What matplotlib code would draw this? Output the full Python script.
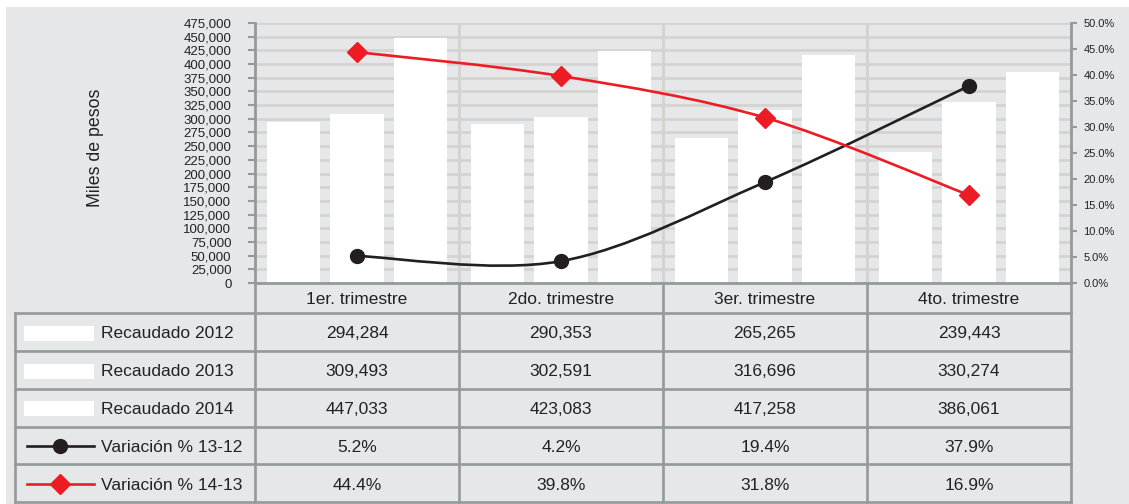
import matplotlib

matplotlib.use("Agg")
import matplotlib.pyplot as plt  # noqa: E402
from matplotlib.lines import Line2D  # noqa: E402
from matplotlib.patches import PathPatch, Rectangle  # noqa: E402
from matplotlib.path import Path  # noqa: E402
from matplotlib.transforms import Affine2D  # noqa: E402
import numpy as np  # noqa: E402

trimestres = ["1er. trimestre", "2do. trimestre", "3er. trimestre", "4to. trimestre"]
rec_2012 = [294284, 290353, 265265, 239443]
rec_2013 = [309493, 302591, 316696, 330274]
rec_2014 = [447033, 423083, 417258, 386061]
var_13_12 = [5.2, 4.2, 19.4, 37.9]
var_14_13 = [44.4, 39.8, 31.8, 16.9]
y_ticks = list(range(0, 475001, 25000))
pct_ticks = list(range(0, 51, 5))

W, H = 1129, 504
BG = "#e6e7e8"
GRID = "#d5d3d1"
EDGE = "#939a9a"
RED = "#ed1c24"
BLACK = "#231f20"
TXT = "#222222"

plt.rcParams["font.family"] = ["Liberation Sans", "DejaVu Sans"]


def smooth_path(xs, ys):
    # Catmull-Rom style bezier, like Excel's smoothed lines
    pts = list(zip(xs, ys))
    n = len(pts)
    verts, codes = [pts[0]], [Path.MOVETO]
    for i in range(n - 1):
        p0, p1 = pts[max(i - 1, 0)], pts[i]
        p2, p3 = pts[i + 1], pts[min(i + 2, n - 1)]
        c1 = (p1[0] + (p2[0] - p0[0]) / 6, p1[1] + (p2[1] - p0[1]) / 6)
        c2 = (p2[0] - (p3[0] - p1[0]) / 6, p2[1] - (p3[1] - p1[1]) / 6)
        verts += [c1, c2, p2]
        codes += [Path.CURVE4] * 3
    return Path(verts, codes)


fig = plt.figure(figsize=(W / 100, H / 100), dpi=100)
fig.patch.set_facecolor("white")
pix = Affine2D().scale(1 / W, -1 / H).translate(0, 1) + fig.transFigure
fig.add_artist(Rectangle((6, 7), W, H, transform=pix, facecolor=BG, edgecolor="none", zorder=-10))

L, R, T, B = 255, 1071, 23, 283
ax = fig.add_axes([L / W, 1 - B / H, (R - L) / W, (B - T) / H])
ax.patch.set_visible(False)
x = np.arange(len(trimestres))
for off, vals in zip((-0.31, 0.0, 0.31), (rec_2012, rec_2013, rec_2014)):
    ax.bar(x + off, vals, 0.26, color="white", zorder=2)
for b in (0.5, 1.5, 2.5):
    ax.axvline(b, color=GRID, lw=2.2, zorder=1)
ax.set_xlim(-0.5, 3.5)
ax.set_ylim(0, 475000)
ax.set_yticks(y_ticks)
ax.set_yticklabels([f"{v:,}" for v in y_ticks])
ax.yaxis.grid(True, color=GRID, lw=2)
ax.set_axisbelow(True)
ax.set_xticks([])
for s in ("top", "right"):
    ax.spines[s].set_visible(False)
for s in ("left", "bottom"):
    ax.spines[s].set_color(EDGE)
    ax.spines[s].set_linewidth(2)
ax.tick_params(axis="y", length=5, width=1.5, color=EDGE, pad=12, labelsize=9.5, labelcolor=TXT)

ax2 = ax.twinx()
ax2.set_ylim(0, 50)
ax2.set_yticks(pct_ticks)
ax2.set_yticklabels([f"{v:.1f}%" for v in pct_ticks])
for s in ("top", "left", "bottom"):
    ax2.spines[s].set_visible(False)
ax2.spines["right"].set_color(EDGE)
ax2.spines["right"].set_linewidth(2)
ax2.tick_params(axis="y", length=4, width=1.5, color=EDGE, pad=5, labelsize=8, labelcolor=TXT)
for vals, color, marker, ms in ((var_13_12, BLACK, "o", 10), (var_14_13, RED, "D", 10)):
    ax2.add_patch(PathPatch(smooth_path(x, vals), facecolor="none", edgecolor=color, lw=1.9, zorder=3))
    ax2.plot(x, vals, ls="none", marker=marker, ms=ms, color=color, zorder=4)

fig.text(95 / W, 1 - 148 / H, "Miles de pesos", rotation=90, ha="center", va="center",
         fontsize=12.8, color=TXT)

# data table under the chart
rows_y = [313, 351, 389, 426.5, 464, 502]
cols_x = [L + i * (R - L) / 4 for i in range(5)]
left_x = 15
lw_t = 1.9
FS = 12.5
DY = 2  # text sits a little low in its cell
for yy in rows_y:
    fig.add_artist(Line2D([left_x, R], [yy, yy], transform=pix, color=EDGE, lw=lw_t))
for xx in cols_x:
    fig.add_artist(Line2D([xx, xx], [B, rows_y[-1]], transform=pix, color=EDGE, lw=lw_t))
fig.add_artist(Line2D([left_x, left_x], [rows_y[0], rows_y[-1]], transform=pix, color=EDGE, lw=lw_t))

for i, name in enumerate(trimestres):
    fig.text((cols_x[i] + cols_x[i + 1]) / 2 / W, 1 - ((B + rows_y[0]) / 2 + DY) / H, name,
             ha="center", va="center", fontsize=FS, color=TXT)

rows = [
    ("Recaudado 2012", [f"{v:,}" for v in rec_2012], None),
    ("Recaudado 2013", [f"{v:,}" for v in rec_2013], None),
    ("Recaudado 2014", [f"{v:,}" for v in rec_2014], None),
    ("Variación % 13-12", [f"{v:.1f}%" for v in var_13_12], (BLACK, "o")),
    ("Variación % 14-13", [f"{v:.1f}%" for v in var_14_13], (RED, "D")),
]
for r, (label, cells, key) in enumerate(rows):
    cy = (rows_y[r] + rows_y[r + 1]) / 2
    if key is None:
        fig.add_artist(Rectangle((24, cy - 6.5), 70, 15, transform=pix, facecolor="white", edgecolor="none"))
    else:
        fig.add_artist(Line2D([27, 94], [cy + 1, cy + 1], transform=pix, color=key[0], lw=1.9))
        fig.add_artist(Line2D([60], [cy + 1], transform=pix, color=key[0], marker=key[1], ms=10, ls="none"))
    fig.text(101 / W, 1 - (cy + DY) / H, label, ha="left", va="center", fontsize=FS, color=TXT)
    for i, c in enumerate(cells):
        fig.text((cols_x[i] + cols_x[i + 1]) / 2 / W, 1 - (cy + DY) / H, c,
                 ha="center", va="center", fontsize=FS, color=TXT)

fig.savefig("out.png", dpi=100, facecolor=fig.get_facecolor())
